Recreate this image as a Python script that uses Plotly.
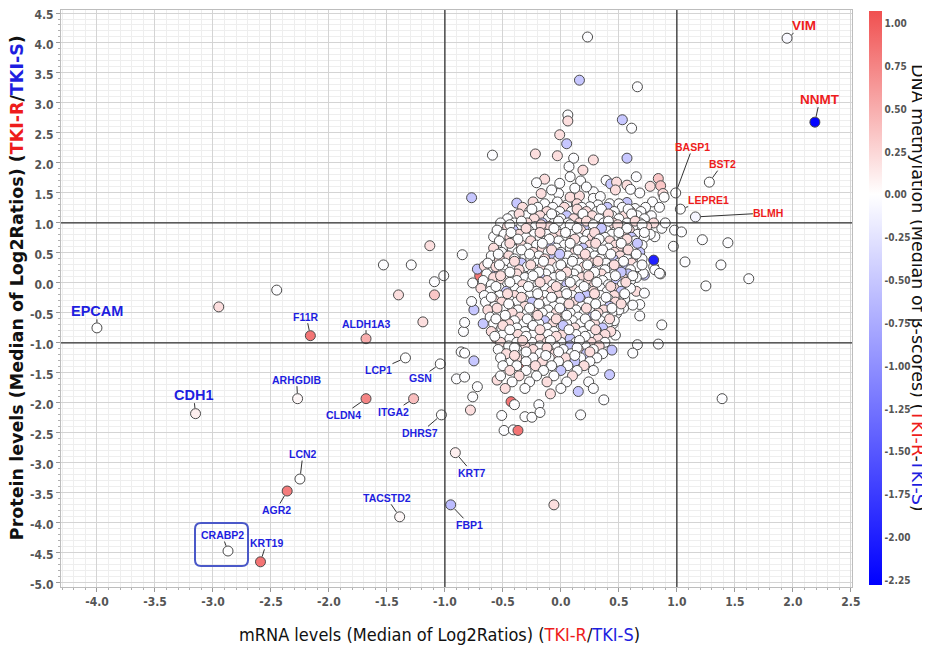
import plotly.graph_objects as go

# ---------------- data ----------------
# labelled genes: mRNA log2 ratio, protein log2 ratio, methylation (median beta-score diff)
gene_names = ["VIM", "NNMT", "BASP1", "BST2", "LEPRE1", "BLMH", "EPCAM", "CDH1", "F11R",
              "ALDH1A3", "LCP1", "GSN", "ARHGDIB", "CLDN4", "ITGA2", "DHRS7", "KRT7", "LCN2",
              "AGR2", "TACSTD2", "FBP1", "CRABP2", "KRT19"]
gene_mrna = [1.95, 2.19, 0.99, 1.28, 1.03, 1.16, -4.00, -3.15, -2.16, -1.68, -1.34, -1.04,
             -2.27, -1.68, -1.27, -1.03, -0.91, -2.25, -2.36, -1.39, -0.95, -2.87, -2.59]
gene_protein = [4.08, 2.68, 1.50, 1.68, 1.23, 1.10, -0.75, -2.18, -0.88, -0.93, -1.25, -1.35,
                -1.93, -1.93, -1.93, -2.20, -2.83, -3.27, -3.47, -3.90, -3.70, -4.47, -4.65]
gene_methyl = [-0.05, -2.25, 0.0, 0.0, 0.0, -0.1, 0.0, 0.1, 0.85, 0.5, 0.0, 0.0, 0.05, 0.75,
               0.4, 0.0, 0.1, 0.0, 0.8, 0.05, -0.6, 0.0, 0.85]
gene_up = ["VIM", "NNMT", "BASP1", "BST2", "LEPRE1", "BLMH"]

# methylation level codes used for the unlabelled cloud
methyl_level = {"w": -0.02, "p": 0.2, "q": 0.35, "r": 0.5, "R": 0.85,
                "b": -0.5, "c": -0.8, "B": -2.0}

# isolated / peripheral unlabelled genes (mRNA, protein, methylation code)
periphery_upper = [
    (0.23, 4.10, "w"), (0.16, 3.38, "b"), (0.66, 3.27, "w"), (0.06, 2.80, "w"), (0.06, 2.70, "p"),
    (0.53, 2.72, "b"), (0.61, 2.58, "w"), (-0.01, 2.47, "p"), (0.05, 2.32, "b"), (-0.59, 2.13, "w"),
    (-0.22, 2.15, "p"), (-0.03, 2.12, "p"), (0.11, 2.08, "w"), (0.28, 2.05, "p"), (0.57, 2.08, "b"),
    (0.07, 1.94, "w"), (0.19, 1.88, "p"), (0.08, 1.77, "w"), (0.17, 1.70, "w"), (-0.14, 1.73, "p"),
    (-0.21, 1.67, "w"), (-0.01, 1.66, "w"), (0.39, 1.71, "w"), (0.43, 1.65, "b"), (0.48, 1.68, "p"),
    (0.57, 1.63, "p"), (0.65, 1.77, "w"), (0.68, 1.50, "w"), (0.84, 1.74, "q"), (0.86, 1.62, "q"),
    (0.88, 1.49, "p"), (0.77, 1.61, "p"), (0.79, 1.35, "w"), (0.85, 1.26, "w"), (0.89, 1.43, "w"),
    (0.57, 1.34, "b"), (0.64, 1.24, "w"), (0.70, 1.16, "w"), (-0.77, 1.42, "b"), (-0.38, 1.33, "b"),
    (-0.17, 1.49, "p"), (-0.24, 1.35, "p"), (-0.02, 1.49, "w"), (-0.03, 1.35, "w"), (0.05, 1.30, "w"),
    (0.08, 1.43, "p"), (0.16, 1.45, "p"), (0.28, 1.52, "w"), (0.28, 1.41, "w"), (0.34, 1.44, "w"),
    (0.32, 1.30, "w"), (0.25, 1.27, "w"), (0.12, 1.58, "w"), (0.22, 1.60, "w"), (-0.08, 1.55, "w"),
    (0.47, 1.55, "p"), (0.60, 1.56, "w"), (-0.14, 1.32, "w"), (0.14, 1.32, "p"), (0.42, 1.32, "w"),
    (0.50, 1.32, "w"),
]
periphery_right = [
    (0.98, 0.88, "w"), (1.04, 0.85, "w"), (0.87, 0.91, "w"), (0.97, 0.61, "w"), (0.81, 0.77, "w"),
    (0.80, 0.27, "w"), (0.86, 0.15, "w"), (0.81, 0.22, "w"), (0.72, 0.13, "b"), (0.71, 0.16, "w"),
    (1.22, 0.72, "w"), (1.44, 0.67, "w"), (1.07, 0.35, "w"), (1.38, 0.30, "w"), (1.25, -0.05, "w"),
    (1.62, 0.07, "w"), (0.87, -0.70, "w"), (0.84, -1.02, "w"), (0.66, -1.03, "w"), (0.62, -1.17, "w"),
    (0.68, -0.55, "w"), (0.38, 0.97, "b"), (0.80, 0.38, "B"), (0.68, -0.36, "w"), (0.62, -0.37, "w"),
    (0.65, -0.14, "p"), (0.72, -0.17, "w"), (0.52, -0.12, "b"), (0.54, -0.42, "w"), (0.48, -0.51, "w"),
    (0.47, -0.87, "w"), (0.39, -0.81, "b"), (0.45, -0.68, "w"), (0.85, 0.16, "w"), (0.78, 1.05, "w"),
    (0.90, 1.00, "w"),
]
periphery_left = [
    (-1.13, 0.62, "p"), (-1.29, 0.30, "w"), (-1.01, 0.12, "w"), (-1.09, 0.02, "w"), (-0.85, 0.47, "w"),
    (-1.53, 0.30, "w"), (-1.40, -0.20, "p"), (-1.09, -0.20, "q"), (-1.19, -0.65, "p"), (-2.95, -0.40, "p"),
    (-2.45, -0.12, "w"), (-0.76, 0.00, "w"), (-0.70, 0.12, "R"), (-0.55, 0.05, "b"), (-0.72, 0.23, "b"),
    (-0.58, 0.77, "w"), (-0.47, 0.83, "w"), (-0.50, 0.58, "w"), (-0.75, -0.45, "b"), (-0.67, -0.68, "b"),
    (-0.84, -0.81, "w"), (-0.83, -0.66, "w"), (-0.77, -0.31, "w"), (-0.56, -0.92, "q"), (-0.66, 0.28, "p"),
    (-0.56, 0.14, "b"), (-0.43, 0.80, "b"),
]
periphery_lower = [
    (-0.86, -1.15, "w"), (-0.83, -1.17, "w"), (-0.75, -1.30, "b"), (-0.90, -1.60, "w"), (-0.83, -1.57, "w"),
    (-0.72, -1.73, "w"), (-0.76, -1.90, "w"), (-0.78, -2.12, "p"), (-0.55, -1.62, "p"), (-0.43, -1.31, "w"),
    (-0.32, -1.38, "R"), (-0.43, -1.98, "R"), (-0.19, -2.03, "w"), (-0.09, -1.85, "p"), (0.15, -1.81, "b"),
    (0.37, -1.95, "w"), (0.42, -1.53, "b"), (0.44, -1.12, "b"), (-0.51, -2.21, "w"), (-0.40, -2.03, "w"),
    (-0.31, -2.23, "w"), (-0.25, -2.24, "w"), (-0.18, -2.16, "w"), (-0.49, -2.46, "w"), (-0.41, -2.45, "w"),
    (-0.37, -2.46, "R"), (0.17, -2.20, "w"), (-0.06, -3.70, "p"), (1.39, -1.93, "w"),
]

# dense cloud, row by row: (protein level, mRNA levels along the row, methylation codes)
cloud_rows = [
    (1.26, [-0.33, -0.20, -0.07, 0.03, 0.18, 0.40, 0.53, 0.73], "pwwpwbww"),
    (1.19, [-0.27, -0.12, -0.01, 0.09, 0.22, 0.31, 0.46, 0.60, 0.69], "wpwwpwwpw"),
    (1.12, [-0.42, -0.30, -0.18, -0.05, 0.05, 0.15, 0.27, 0.37, 0.44, 0.55, 0.66, 0.78], "wwpwbwpwwpww"),
    (1.07, [-0.46, -0.23, -0.11, 0.00, 0.11, 0.20, 0.33, 0.50, 0.62, 0.72], "wpwwpwwwpw"),
    (1.00, [-0.52, -0.40, -0.29, -0.16, -0.06, 0.06, 0.16, 0.25, 0.37, 0.45, 0.57, 0.68, 0.80], "wwpbwwpwwpwwp"),
    (0.94, [-0.46, -0.34, -0.22, -0.10, 0.01, 0.12, 0.21, 0.31, 0.42, 0.53, 0.63, 0.74], "pwwpwwbwpwwp"),
    (0.88, [-0.55, -0.41, -0.28, -0.17, -0.04, 0.07, 0.17, 0.28, 0.39, 0.48, 0.59, 0.70], "wbwpwwpwwwpw"),
    (0.81, [-0.49, -0.36, -0.23, -0.12, -0.01, 0.10, 0.23, 0.34, 0.44, 0.55, 0.66, 0.77], "wpwwpwwbwpww"),
    (0.76, [-0.44, -0.30, -0.18, -0.07, 0.04, 0.15, 0.27, 0.38, 0.50, 0.61, 0.72], "pwwpwwpwwbw"),
    (0.70, [-0.53, -0.39, -0.26, -0.13, -0.02, 0.09, 0.20, 0.31, 0.42, 0.53, 0.64], "wwpwwpwwpww"),
    (0.63, [-0.47, -0.34, -0.21, -0.09, 0.03, 0.14, 0.25, 0.36, 0.47, 0.58, 0.70], "wpwbwwpwpww"),
    (0.58, [-0.58, -0.42, -0.29, -0.16, -0.04, 0.08, 0.19, 0.30, 0.41, 0.52, 0.63], "pwwpwwbwwpw"),
    (0.51, [-0.51, -0.37, -0.24, -0.11, 0.00, 0.12, 0.24, 0.35, 0.46, 0.57, 0.68], "wwpwwpwwpwb"),
    (0.45, [-0.60, -0.45, -0.31, -0.19, -0.06, 0.06, 0.17, 0.29, 0.40, 0.51, 0.62], "wpwwbwpwwpw"),
    (0.40, [-0.53, -0.40, -0.26, -0.14, -0.02, 0.11, 0.22, 0.34, 0.45, 0.57, 0.70], "pwwpwwpwbww"),
    (0.33, [-0.63, -0.48, -0.34, -0.21, -0.08, 0.04, 0.16, 0.28, 0.39, 0.50, 0.61], "wwbwpwwpwwp"),
    (0.27, [-0.56, -0.42, -0.29, -0.16, -0.03, 0.09, 0.20, 0.32, 0.44, 0.55, 0.66], "pwwpwwpwwbw"),
    (0.22, [-0.49, -0.36, -0.23, -0.10, 0.02, 0.14, 0.26, 0.38, 0.49, 0.60], "wpwwpwbwpw"),
    (0.15, [-0.64, -0.51, -0.38, -0.25, -0.13, -0.01, 0.11, 0.23, 0.35, 0.46, 0.58], "wwpwwpwwpwb"),
    (0.09, [-0.58, -0.45, -0.31, -0.18, -0.06, 0.06, 0.18, 0.30, 0.41, 0.53, 0.65], "pwwbwwpwwpw"),
    (0.04, [-0.67, -0.51, -0.38, -0.25, -0.12, 0.00, 0.12, 0.24, 0.36, 0.48, 0.60], "wpwwpwwpwbw"),
    (-0.03, [-0.60, -0.46, -0.33, -0.20, -0.07, 0.05, 0.17, 0.29, 0.41, 0.53], "wwpwwbwpww"),
    (-0.09, [-0.69, -0.53, -0.40, -0.27, -0.14, -0.02, 0.10, 0.22, 0.34, 0.46, 0.60], "pwwpwwpwwpw"),
    (-0.14, [-0.61, -0.47, -0.34, -0.21, -0.08, 0.04, 0.16, 0.28, 0.40, 0.52], "wbwwpwwpwb"),
    (-0.21, [-0.66, -0.53, -0.40, -0.27, -0.14, -0.02, 0.10, 0.22, 0.34, 0.46], "wwpwwpwbwp"),
    (-0.27, [-0.58, -0.45, -0.32, -0.19, -0.07, 0.05, 0.17, 0.29, 0.41, 0.55], "pwwpwwpwww"),
    (-0.32, [-0.65, -0.51, -0.38, -0.25, -0.12, 0.00, 0.12, 0.24, 0.36, 0.47], "wpwbwwpwwp"),
    (-0.39, [-0.57, -0.44, -0.31, -0.18, -0.06, 0.06, 0.18, 0.30, 0.42], "wwpwwpwwb"),
    (-0.45, [-0.63, -0.50, -0.37, -0.24, -0.11, 0.01, 0.13, 0.25, 0.37, 0.50], "pwwpwbwwpw"),
    (-0.50, [-0.55, -0.42, -0.29, -0.16, -0.04, 0.08, 0.20, 0.32, 0.44], "wpwwpwwpw"),
    (-0.57, [-0.61, -0.48, -0.35, -0.22, -0.09, 0.03, 0.15, 0.27, 0.39], "wwpwwpwbw"),
    (-0.63, [-0.53, -0.40, -0.27, -0.14, -0.02, 0.10, 0.22, 0.34, 0.46], "pwwbwwpww"),
    (-0.68, [-0.58, -0.45, -0.32, -0.19, -0.07, 0.05, 0.17, 0.29, 0.40], "wpwwpwwpw"),
    (-0.75, [-0.51, -0.38, -0.25, -0.12, 0.00, 0.12, 0.24, 0.36], "wwpwwpwb"),
    (-0.81, [-0.60, -0.45, -0.31, -0.18, -0.06, 0.07, 0.19, 0.31, 0.43], "pwwpwbwwp"),
    (-0.86, [-0.50, -0.37, -0.24, -0.11, 0.01, 0.13, 0.26, 0.38], "wpwwpwwp"),
    (-0.93, [-0.44, -0.31, -0.18, -0.05, 0.08, 0.20, 0.32], "wwpwbwp"),
    (-0.99, [-0.52, -0.38, -0.25, -0.12, 0.00, 0.13, 0.26, 0.38], "pwwpwwpw"),
    (-1.05, [-0.45, -0.31, -0.18, -0.05, 0.08, 0.21, 0.33], "wpwwbwp"),
    (-1.11, [-0.54, -0.38, -0.24, -0.11, 0.02, 0.15, 0.28], "wwpwwpw"),
    (-1.18, [-0.47, -0.32, -0.18, -0.05, 0.09, 0.22, 0.36], "pwwpwbw"),
    (-1.25, [-0.52, -0.38, -0.24, -0.10, 0.04, 0.17, 0.31], "wpwwpww"),
    (-1.31, [-0.30, -0.16, -0.02, 0.12, 0.25], "wpwbw"),
    (-1.38, [-0.50, -0.38, -0.22, -0.08, 0.06, 0.20], "wwpwwp"),
    (-1.46, [-0.44, -0.30, -0.15, 0.00, 0.14, 0.28], "pwwbww"),
    (-1.55, [-0.52, -0.36, -0.21, -0.06, 0.10], "wpwwp"),
    (-1.65, [-0.42, -0.27, -0.12, 0.05, 0.24], "wwpww"),
    (-1.76, [-0.48, -0.31, 0.00, 0.28], "pwww"),
]
# genes lying between the rows above, in the crowded core
cloud_rows_between = [
    (1.23, [-0.25, 0.14, 0.35, 0.58], "wpww"),
    (1.15, [-0.36, -0.08, 0.19, 0.41, 0.61], "pwwpw"),
    (1.03, [-0.34, -0.02, 0.22, 0.41, 0.64], "wwpwp"),
    (0.97, [-0.44, -0.17, 0.08, 0.28, 0.49, 0.70], "wpwwpw"),
    (0.91, [-0.30, -0.06, 0.14, 0.35, 0.57], "pwwbw"),
    (0.84, [-0.43, -0.18, 0.04, 0.29, 0.50, 0.72], "wpwpww"),
    (0.73, [-0.37, -0.10, 0.12, 0.33, 0.57], "wwpwp"),
    (0.66, [-0.44, -0.16, 0.08, 0.30, 0.52, 0.66], "pwwpwb"),
    (0.55, [-0.34, -0.08, 0.15, 0.36, 0.58], "wpwwp"),
    (0.48, [-0.54, -0.27, -0.01, 0.21, 0.43, 0.65], "wwbpww"),
    (0.36, [-0.40, -0.15, 0.10, 0.32, 0.54], "pwwpw"),
    (0.30, [-0.53, -0.26, 0.00, 0.23, 0.46, 0.70], "wpwwpw"),
    (0.18, [-0.44, -0.19, 0.05, 0.29, 0.52], "wwpwb"),
    (0.12, [-0.52, -0.24, 0.00, 0.24, 0.47, 0.62], "pwwpww"),
    (0.01, [-0.44, -0.18, 0.08, 0.31, 0.56], "wpwwp"),
    (-0.06, [-0.56, -0.28, -0.04, 0.20, 0.43], "wwpwp"),
    (-0.18, [-0.46, -0.20, 0.05, 0.29, 0.55], "pwwpw"),
    (-0.24, [-0.60, -0.34, -0.08, 0.16, 0.39], "wpwbw"),
    (-0.35, [-0.45, -0.19, 0.07, 0.30, 0.52], "wwpwp"),
    (-0.42, [-0.55, -0.27, -0.01, 0.22, 0.44], "pwwpw"),
    (-0.54, [-0.48, -0.20, 0.05, 0.30], "wpww"),
    (-0.60, [-0.56, -0.29, -0.04, 0.21, 0.42], "wwpwp"),
    (-0.71, [-0.50, -0.24, 0.02, 0.25], "pwbw"),
    (-0.78, [-0.44, -0.18, 0.07, 0.30], "wpwp"),
    (-0.89, [-0.57, -0.30, -0.04, 0.21], "wwpw"),
    (-0.96, [-0.33, -0.09, 0.16], "pww"),
    (-1.08, [-0.40, -0.12, 0.14], "wpw"),
    (-1.15, [-0.30, -0.02, 0.25], "wwp"),
    (-1.21, [-0.40, -0.13, 0.12], "pww"),
]

fold_thresholds = [-1.0, 1.0]
x_tick_vals = [-4.0, -3.5, -3.0, -2.5, -2.0, -1.5, -1.0, -0.5, 0.0, 0.5, 1.0, 1.5, 2.0, 2.5]
x_tick_text = ["-4.0", "-3.5", "-3.0", "-2.5", "-2.0", "-1.5", "-1.0", "-0.5", "0.0", "0.5",
               "1.0", "1.5", "2.0", "2.5"]
y_tick_vals = [4.5, 4.0, 3.5, 3.0, 2.5, 2.0, 1.5, 1.0, 0.5, 0.0, -0.5, -1.0, -1.5, -2.0,
               -2.5, -3.0, -3.5, -4.0, -4.5, -5.0]
y_tick_text = ["4.5", "4.0", "3.5", "3.0", "2.5", "2.0", "1.5", "1.0", "0.5", "0.0", "-0.5",
               "-1.0", "-1.5", "-2.0", "-2.5", "-3.0", "-3.5", "-4.0", "-4.5", "-5.0"]
cbar_tick_vals = [1.0, 0.75, 0.5, 0.25, 0.0, -0.25, -0.5, -0.75, -1.0, -1.25, -1.5, -1.75, -2.0, -2.25]
cbar_tick_text = ["1.00", "0.75", "0.50", "0.25", "0.00", "-0.25", "-0.50", "-0.75", "-1.00",
                  "-1.25", "-1.50", "-1.75", "-2.00", "-2.25"]

# ---------------- assemble cloud ----------------
cloud_x, cloud_y, cloud_m = [], [], []
for pts in (periphery_upper, periphery_right, periphery_left, periphery_lower):
    for x, y, c in pts:
        cloud_x.append(x); cloud_y.append(y); cloud_m.append(methyl_level[c])
for rows in (cloud_rows, cloud_rows_between):
    for y, xs, codes in rows:
        codes = codes.ljust(len(xs), "w")
        for x, c in zip(xs, codes):
            cloud_x.append(x); cloud_y.append(y); cloud_m.append(methyl_level[c])

# ---------------- styling ----------------
CMIN, CMAX = -2.28, 1.07
white_pos = (0.0 - CMIN) / (CMAX - CMIN)
colorscale = [[0.0, "rgb(0,0,255)"], [white_pos, "rgb(255,255,255)"], [1.0, "rgb(240,80,80)"]]
narrow = "Liberation Sans Narrow, Arial Narrow, DejaVu Sans Condensed, sans-serif"
RED = "#ee1c1c"
BLUE = "#1e1ee0"

marker_common = dict(size=10, line=dict(color="#4a4a4a", width=1), cmin=CMIN, cmax=CMAX,
                     colorscale=colorscale)

fig = go.Figure()
fig.add_trace(go.Scatter(
    x=cloud_x, y=cloud_y, mode="markers", hoverinfo="skip", showlegend=False,
    marker=dict(color=cloud_m, showscale=False, **marker_common)))

fig.add_trace(go.Scatter(
    x=gene_mrna, y=gene_protein, mode="markers", text=gene_names, showlegend=False,
    marker=dict(color=gene_methyl, showscale=True, **marker_common,
                colorbar=dict(
                    thickness=13, lenmode="pixels", len=574, x=1.0215, xanchor="left", xpad=0,
                    y=0.5, yanchor="middle", ypad=0, outlinewidth=0,
                    tickmode="array", tickvals=cbar_tick_vals, ticktext=cbar_tick_text,
                    tickfont=dict(family=narrow, size=10, color="#555555", weight="bold")))))

# label placements (pixel offsets of the text centre from the point) and sizes
label_style = {
    "VIM": (17, -13, 13.5), "NNMT": (5, -23, 13.5), "BASP1": (17, -46, 10.5),
    "BST2": (13, -18, 10.5), "LEPRE1": (28, -9, 10.5), "BLMH": (73, -4, 10.5),
    "EPCAM": (0, -17, 14.5), "CDH1": (-2, -19, 14.5), "F11R": (-4, -19, 10.5),
    "ALDH1A3": (0, -15, 10.5), "LCP1": (-27, 12, 10.5), "GSN": (-20, 14, 10.5),
    "ARHGDIB": (-1, -19, 10.5), "CLDN4": (-23, 16, 10.5), "ITGA2": (-20, 13, 10.5),
    "DHRS7": (-21, 18, 10.5), "KRT7": (17, 20, 10.5), "LCN2": (3, -25, 10.5),
    "AGR2": (-11, 19, 10.5), "TACSTD2": (-13, -19, 10.5), "FBP1": (19, 20, 10.5),
    "CRABP2": (-6, -16, 10.5), "KRT19": (6, -19, 10.5),
}
annotations = []
for name, gx, gy in zip(gene_names, gene_mrna, gene_protein):
    ax, ay, fs = label_style[name]
    annotations.append(dict(
        x=gx, y=gy, xref="x", yref="y", text=name, showarrow=True, arrowhead=0,
        arrowwidth=1, arrowcolor="#333333", ax=ax, ay=ay, standoff=5.5, borderpad=0,
        font=dict(family="Liberation Sans, Arial, sans-serif", size=fs, weight="bold",
                  color=RED if name in gene_up else BLUE)))

annotations.append(dict(
    xref="paper", yref="paper", x=-0.0556, y=0.518, xanchor="center", yanchor="middle",
    textangle=-90, showarrow=False,
    text='Protein levels (Median of Log2Ratios) (<span style="color:%s">TKI-R</span>/'
         '<span style="color:%s">TKI-S</span>)' % (RED, BLUE),
    font=dict(family="DejaVu Sans", size=17.5, weight="bold", color="#111111")))
annotations.append(dict(
    xref="paper", yref="paper", x=0.479, y=-0.083, xanchor="center", yanchor="middle",
    showarrow=False,
    text='mRNA levels (Median of Log2Ratios) (<span style="color:%s">TKI-R</span>/'
         '<span style="color:%s">TKI-S</span>)' % (RED, BLUE),
    font=dict(family=narrow, size=18, color="#111111")))
annotations.append(dict(
    xref="paper", yref="paper", x=1.0835, y=0.518, xanchor="center", yanchor="middle",
    textangle=90, showarrow=False,
    text='DNA methylation (Median of β-scores) (<span style="color:%s">TKI-R</span>-'
         '<span style="color:%s">TKI-S</span>)' % (RED, BLUE),
    font=dict(family="DejaVu Sans", size=17.5, color="#111111")))

shapes = []
for t in fold_thresholds:
    shapes.append(dict(type="line", xref="x", yref="paper", x0=t, x1=t, y0=0, y1=1,
                       line=dict(color="#333333", width=1.3), layer="above"))
    shapes.append(dict(type="line", xref="paper", yref="y", x0=0, x1=1, y0=t, y1=t,
                       line=dict(color="#333333", width=1.3), layer="above"))

# rounded box around CRABP2 (pixels relative to the gene's point)
ci = gene_names.index("CRABP2")
shapes.append(dict(
    type="path", xref="x", yref="y", xsizemode="pixel", ysizemode="pixel",
    xanchor=gene_mrna[ci], yanchor=gene_protein[ci],
    path="M -27,28 L 14,28 Q 20,28 20,22 L 20,-9 Q 20,-15 14,-15 L -27,-15 "
         "Q -33,-15 -33,-9 L -33,22 Q -33,28 -27,28 Z",
    line=dict(color="#4a58c8", width=2), layer="above"))

axis_common = dict(
    showgrid=True, gridcolor="#d4d4d4", gridwidth=1, zeroline=False,
    showline=True, linecolor="#bdbdbd", linewidth=1, mirror=True,
    ticks="outside", ticklen=4, tickcolor="#9a9a9a", ticklabeloverflow="allow",
    tickfont=dict(family=narrow, size=12, color="#555555", weight="bold"),
    minor=dict(dtick=0.1, tick0=0, showgrid=True, gridcolor="#eeeeee", ticks="outside",
               ticklen=2, tickcolor="#b0b0b0"))

# the page places the figure 8 px from the top-left corner, so the figure is 8 px smaller
fig.update_layout(
    width=922, height=642, margin=dict(l=53, r=78, t=2, b=63, autoexpand=False),
    paper_bgcolor="white", plot_bgcolor="white",
    xaxis=dict(range=[-4.31, 2.51], tickmode="array", tickvals=x_tick_vals, ticktext=x_tick_text,
               **axis_common),
    yaxis=dict(range=[-5.07, 4.55], tickmode="array", tickvals=y_tick_vals, ticktext=y_tick_text,
               ticklabelshift=2, **axis_common),
    annotations=annotations, shapes=shapes,
    font=dict(family="Liberation Sans, Arial, sans-serif"),
)

fig.write_html("out.html")
